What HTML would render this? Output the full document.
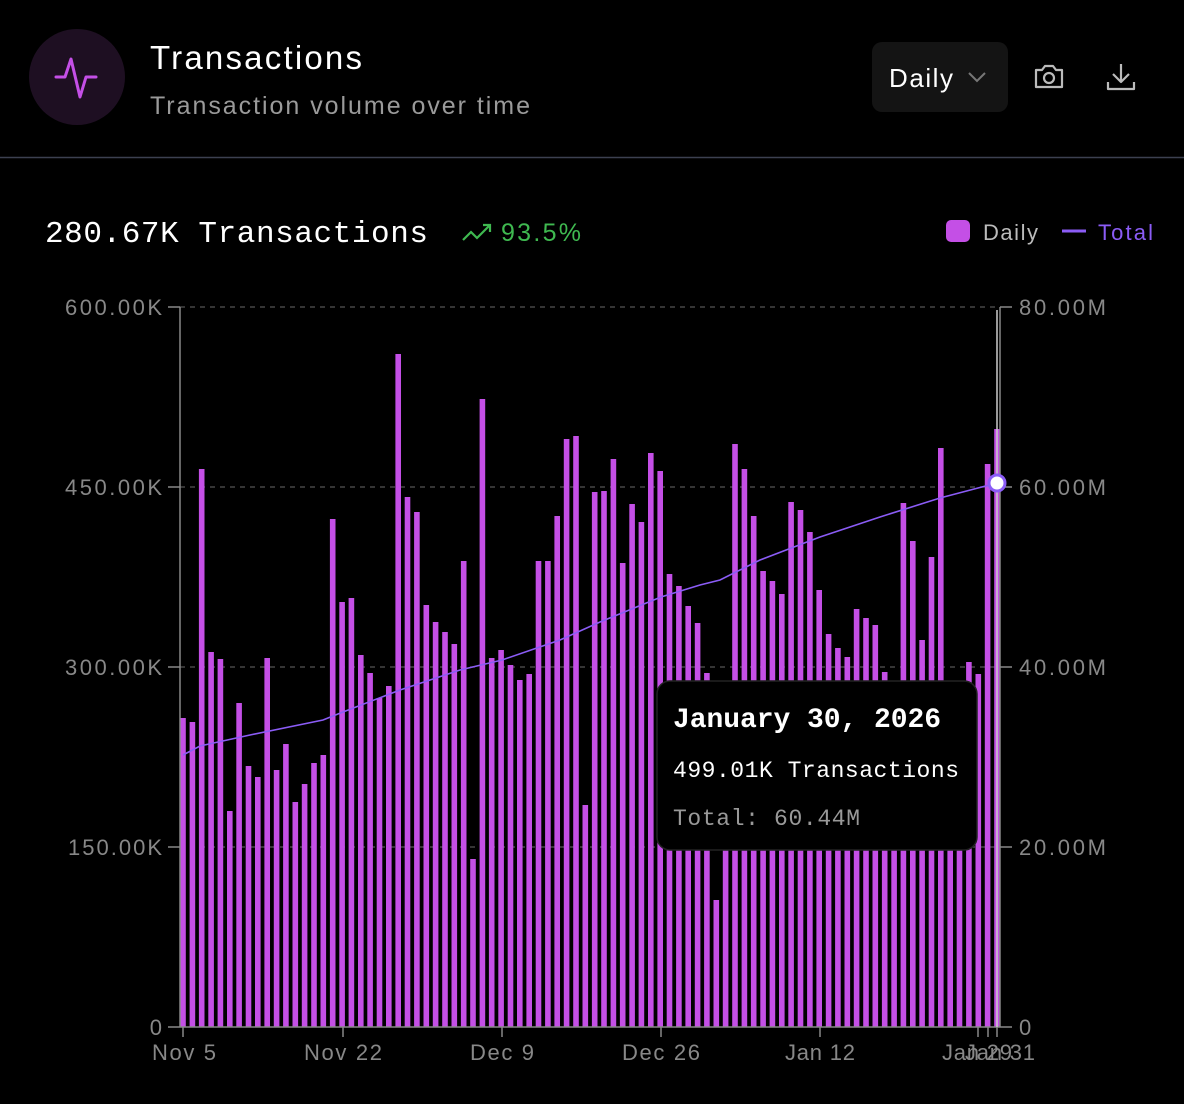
<!DOCTYPE html>
<html><head><meta charset="utf-8"><style>
body{margin:0;width:1184px;height:1104px;background:#000;overflow:hidden;font-family:"Liberation Sans",sans-serif;}
</style></head><body>
<svg id="s" width="1184" height="1104" xmlns="http://www.w3.org/2000/svg" style="position:absolute;left:0;top:0">
<circle cx="77" cy="77" r="48" fill="#1e0f22"/>
<path d="M56 77 L65 77 L71 59 L80 97 L86 77 L96 77" stroke="#c44fe6" stroke-width="3" fill="none" stroke-linecap="round" stroke-linejoin="round"/>
<text x="150" y="69" font-size="33" fill="#fff" textLength="212">Transactions</text>
<text x="150" y="114" font-size="25" fill="#9a9a9a" textLength="380">Transaction volume over time</text>
<rect x="872" y="42" width="136" height="70" rx="10" fill="#141414"/>
<text x="889" y="87" font-size="26" fill="#fff" textLength="64">Daily</text>
<path d="M969 73 L977 81 L985 73" stroke="#777" stroke-width="2" fill="none"/>
<g stroke="#bbb" stroke-width="2.2" fill="none" stroke-linejoin="round">
<path d="M1036 70 h6 l3 -4 h8 l3 4 h6 v17 h-26z"/><circle cx="1049" cy="78" r="5"/>
<path d="M1121 64 v17 M1113 74 l8 8 l8 -8 M1108 82 v7 h26 v-7"/>
</g>
<line x1="0" y1="157.5" x2="1184" y2="157.5" stroke="#3c4050" stroke-width="1.5"/>
<text x="45" y="242" font-size="31" fill="#fff" font-family="Liberation Mono,monospace" textLength="383">280.67K Transactions</text>
<path d="M463 240 l8 -8 l6 6 l13 -13 M483 225 h7 v7" stroke="#3fb950" stroke-width="2.2" fill="none"/>
<text x="501" y="241" font-size="25" fill="#3fb950" textLength="80">93.5%</text>
<rect x="946" y="220" width="24" height="22" rx="5" fill="#c44fe6"/>
<text x="983" y="240" font-size="22" fill="#bbb" textLength="55">Daily</text>
<line x1="1062" y1="231" x2="1086" y2="231" stroke="#8b5cf6" stroke-width="3"/>
<text x="1098" y="240" font-size="22" fill="#8b5cf6" textLength="55">Total</text>
<g stroke="#555" stroke-dasharray="5 5" stroke-width="1.2">
<line x1="180" y1="307" x2="1000" y2="307"/><line x1="180" y1="487" x2="1000" y2="487"/>
<line x1="180" y1="667" x2="1000" y2="667"/><line x1="180" y1="847" x2="1000" y2="847"/>
</g>
<g id="bars" fill="#c44fe6"></g>
<polyline points="183,755 200,746 250,735 323,720 343,712 400,690 460,670 502,660 560,640 600,622 661,597 700,585 720,580 760,560 820,537 880,517 940,498 997,483" fill="none" stroke="#8b5cf6" stroke-width="1.6"/>
<g stroke="#888" stroke-width="1.5">
<line x1="180" y1="307" x2="180" y2="1027"/><line x1="1000" y1="307" x2="1000" y2="1027"/>
<line x1="180" y1="1027" x2="1000" y2="1027"/>
<line x1="168" y1="307" x2="180" y2="307"/><line x1="168" y1="487" x2="180" y2="487"/><line x1="168" y1="667" x2="180" y2="667"/><line x1="168" y1="847" x2="180" y2="847"/><line x1="168" y1="1027" x2="180" y2="1027"/>
<line x1="1000" y1="307" x2="1012" y2="307"/><line x1="1000" y1="487" x2="1012" y2="487"/><line x1="1000" y1="667" x2="1012" y2="667"/><line x1="1000" y1="847" x2="1012" y2="847"/><line x1="1000" y1="1027" x2="1012" y2="1027"/>
<line x1="183" y1="1027" x2="183" y2="1037"/><line x1="343" y1="1027" x2="343" y2="1037"/><line x1="502" y1="1027" x2="502" y2="1037"/><line x1="661" y1="1027" x2="661" y2="1037"/><line x1="820" y1="1027" x2="820" y2="1037"/><line x1="978" y1="1027" x2="978" y2="1037"/><line x1="988" y1="1027" x2="988" y2="1037"/><line x1="997" y1="1027" x2="997" y2="1037"/>
</g>
<line x1="997" y1="310" x2="997" y2="1027" stroke="#ccc" stroke-width="1.5"/>
<g font-size="22" fill="#888">
<text x="65" y="315" textLength="97">600.00K</text><text x="65" y="495" textLength="97">450.00K</text><text x="65" y="675" textLength="97">300.00K</text><text x="68" y="855" textLength="94">150.00K</text><text x="162" y="1035" text-anchor="end">0</text>
</g>
<g font-size="22" fill="#888">
<text x="1019" y="315" textLength="87">80.00M</text><text x="1019" y="495" textLength="87">60.00M</text><text x="1019" y="675" textLength="87">40.00M</text><text x="1019" y="855" textLength="87">20.00M</text><text x="1019" y="1035">0</text>
</g>
<g font-size="22" fill="#888">
<text x="152" y="1060" textLength="64">Nov 5</text><text x="304" y="1060" textLength="78">Nov 22</text><text x="470" y="1060" textLength="64">Dec 9</text><text x="622" y="1060" textLength="78">Dec 26</text><text x="785" y="1060" textLength="70">Jan 12</text><text x="942" y="1060" textLength="70">Jan 29</text><text x="965" y="1060" textLength="70">Jan 31</text>
</g>
<circle cx="997" cy="483" r="8" fill="#fff" stroke="#8b5cf6" stroke-width="3"/>
<rect x="657" y="681" width="320" height="169" rx="13" fill="#000" stroke="#222" stroke-width="1.5"/>
<g font-family="Liberation Mono,monospace">
<text x="673" y="727" font-size="28" font-weight="bold" fill="#fff" textLength="268">January 30, 2026</text>
<text x="673" y="777" font-size="23" fill="#fff" textLength="286">499.01K Transactions</text>
<text x="673" y="825" font-size="23" fill="#999" textLength="187">Total: 60.44M</text>
</g>
</svg>
<script>
var t=[718,722,469,652,659,811,703,766,777,658,770,744,802,784,763,755,519,602,598,655,673,698,686,354,497,512,605,622,632,644,561,859,399,658,650,665,680,674,561,561,516,439,436,805,492,491,459,563,504,522,453,471,574,586,606,623,673,900,700,444,469,516,571,581,594,502,510,532,590,634,648,657,609,618,625,672,690,503,541,640,557,448,690,690,662,674,464,429];
var g=document.getElementById('bars'),h='';
for(var i=0;i<t.length;i++){var x=183+i*9.356;h+='<rect x="'+(x-2.8).toFixed(1)+'" y="'+t[i]+'" width="5.6" height="'+(1027-t[i])+'"/>';}
g.innerHTML=h;
</script>
</body></html>
